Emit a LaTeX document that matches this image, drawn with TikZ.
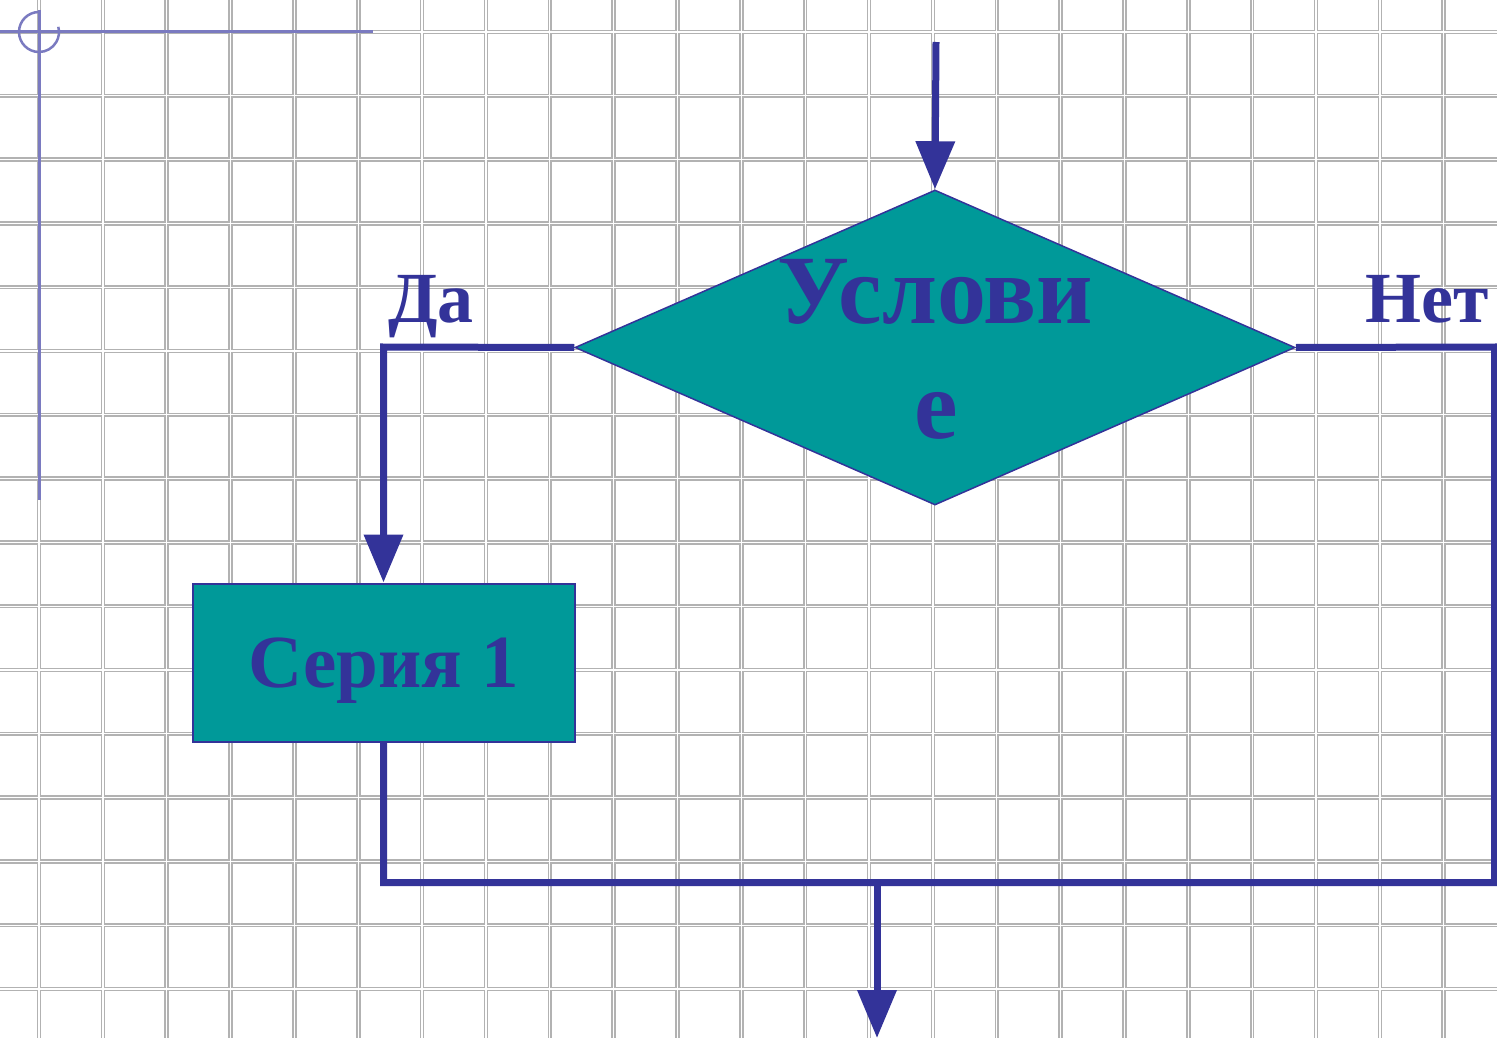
\documentclass[tikz,border=0pt]{standalone}
\usepackage{fontspec}
\setmainfont{Liberation Serif}
\usetikzlibrary{shapes.geometric,arrows.meta}
\definecolor{dblue}{RGB}{51,51,153}
\definecolor{tealfill}{RGB}{0,153,153}
\definecolor{axisblue}{RGB}{122,122,192}
\begin{document}
\begin{tikzpicture}[x=1pt,y=-1pt,
  conn/.style={draw=dblue, line width=7pt, line join=miter},
  arr/.style={conn, -{Triangle[length=48pt,width=38pt]}},
  decision/.style={diamond, draw=dblue, line width=1.5pt, fill=tealfill, minimum width=720pt, minimum height=315pt, inner sep=0pt},
  process/.style={rectangle, draw=dblue, line width=2pt, fill=tealfill, minimum width=382pt, minimum height=158pt, inner sep=0pt, text=dblue, text depth=0pt, font=\fontsize{75}{90}\selectfont\bfseries},
  bigtxt/.style={text=dblue, font=\fontsize{98}{110}\selectfont\bfseries, inner sep=0pt},
  lbl/.style={text=dblue, font=\fontsize{72}{80}\selectfont\bfseries, inner sep=0pt},
  gridline/.style={draw=black!30, line width=4.5pt},
  gridcore/.style={draw=white, line width=1.3pt},
  axis/.style={draw=axisblue, line width=3pt}]

\useasboundingbox (0,0) rectangle (1497,1038);
\fill[white] (0,0) rectangle (1497,1038);

% grid
\foreach \i in {0,...,22} { \draw[gridline] (39+63.85*\i,0) -- (39+63.85*\i,1038); }
\foreach \j in {0,...,16} { \draw[gridline] (0,32+63.8*\j) -- (1497,32+63.8*\j); }
\foreach \i in {0,...,22} { \draw[gridcore] (39+63.85*\i,0) -- (39+63.85*\i,1038); }
\foreach \j in {0,...,16} { \draw[gridcore] (0,32+63.8*\j) -- (1497,32+63.8*\j); }

% origin marker
\draw[axis] (0,32) -- (373,32);
\draw[axis] (39,10) -- (39,500);
\draw[axis, line width=2.5pt] (39,12) arc[start angle=270, end angle=-15, radius=20];

% nodes
\node[decision] (cond) at (935,347.5) {};
\node[bigtxt, anchor=base] (condA) at (935,323) {Услови};
\node[bigtxt, anchor=base] (condB) at (936,438) {е};
\node[process] (s1) at (383.5,662.5) {Серия 1};
\node[lbl, anchor=base west] (yes) at (388,322) {Да};
\node[lbl, anchor=base west] (no) at (1365,322) {Нет};

% coordinates
\coordinate (top) at (936,42);
\coordinate (yesC) at (383.5,347);
\coordinate (noC) at (1494.5,347);
\coordinate (joinL) at (383.5,882.5);
\coordinate (joinR) at (1494.5,882.5);
\coordinate (merge) at (877,882.5);
\coordinate (exit) at (877,1038);

% connectors
\draw[arr] (top) -- (cond.north);
\draw[arr] (cond.west) -- (yesC) -- (s1.north);
\draw[conn] (s1.south) -- (joinL) -- (joinR) -- (noC) -- (cond.east);
\draw[arr] (merge) -- (exit);
\end{tikzpicture}
\end{document}
